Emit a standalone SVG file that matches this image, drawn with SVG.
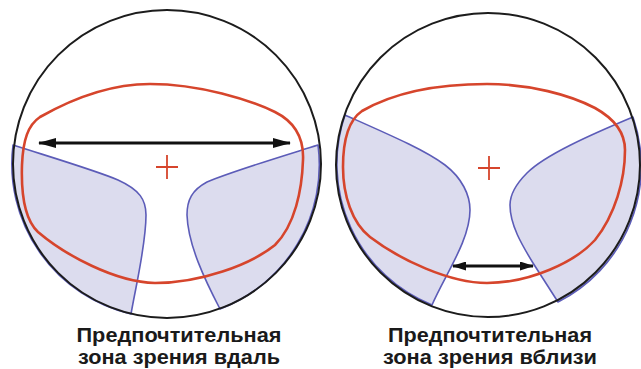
<svg xmlns="http://www.w3.org/2000/svg" width="641" height="369" viewBox="0 0 641 369">
<style>
.lens{fill:#ffffff;stroke:none}
.rim{fill:none;stroke:#1c1c1c;stroke-width:2}
.zone{fill:#dcdcee;stroke:#5c5cb8;stroke-width:1.6;stroke-linejoin:round}
.frame{fill:none;stroke:#d6452c;stroke-width:2.6}
.cross{stroke:#d6452c;stroke-width:1.8;fill:none}
.arr{stroke:#111;stroke-width:3;fill:none}
.lbl{font-family:"Liberation Sans",Arial,sans-serif;font-weight:bold;font-size:19.5px;fill:#1a1a1a;text-anchor:middle}
</style>
<defs>
<marker id="ah" markerWidth="18" markerHeight="10" refX="17" refY="5" orient="auto-start-reverse" markerUnits="userSpaceOnUse">
<path d="M0,0 L18,5 L0,10 z" fill="#111"/>
</marker>
<marker id="ahs" markerWidth="14" markerHeight="9" refX="13" refY="4.5" orient="auto-start-reverse" markerUnits="userSpaceOnUse">
<path d="M0,0 L14,4.5 L0,9 z" fill="#111"/>
</marker>
</defs>

<g id="lens-far">
<circle class="lens" cx="167" cy="164" r="154"/>
<path class="zone" d="M13,145 C60,160 100,172 118,180 C140,190 146,200 146,215 C146,245 136,285 131,314 A154,154 0 0 1 13,145 Z"/>
<path class="zone" d="M318,145 C270,160 230,172 207,182 C192,190 187,200 187,215 C188,245 205,280 220,309 A154,154 0 0 0 318,145 Z"/>
<path class="frame" d="M150,84 C200,84 250,100 275,112 C295,122 304,138 303,160 C302,190 295,225 275,245 C250,265 200,283 155,283 C115,282 65,255 38,232 C25,220 21,195 22,165 C23,140 28,125 40,117 C70,100 110,84 150,84 Z"/>
<circle class="rim" cx="167" cy="164" r="154"/>
<path class="cross" d="M156,167 H178 M167,155 V179"/>
</g>

<g id="lens-near">
<circle class="lens" cx="488" cy="165" r="152"/>
<path class="zone" d="M345,115 C390,135 425,150 445,165 C462,178 470,195 470,210 C470,240 445,275 432,305 A152,152 0 0 1 345,115 Z"/>
<path class="zone" d="M633,117 C590,135 545,155 527,173 C515,185 510,195 510,205 C510,225 522,245 533,263 L558,302 A152,152 0 0 0 633,117 Z"/>
<path class="frame" d="M487,84 C530,84 570,95 595,108 C613,118 625,132 625,150 C625,180 615,215 595,240 C575,262 530,283 487,283 C450,283 400,260 370,237 C352,223 343,195 343,167 C343,145 346,122 362,111 C395,92 440,84 487,84 Z"/>
<circle class="rim" cx="488" cy="165" r="152"/>
<path class="cross" d="M478,168 H500 M489,156 V180"/>
</g>

<g id="connectors">
<line class="arr" x1="39" y1="143" x2="290" y2="143" marker-start="url(#ah)" marker-end="url(#ah)"/>
<line class="arr" x1="453" y1="266" x2="533" y2="266" marker-start="url(#ahs)" marker-end="url(#ahs)"/>
</g>

<g id="label-far">
<text class="lbl" x="179" y="342" textLength="205" lengthAdjust="spacingAndGlyphs">Предпочтительная</text>
<text class="lbl" x="179" y="364" textLength="202" lengthAdjust="spacingAndGlyphs">зона зрения вдаль</text>
</g>
<g id="label-near">
<text class="lbl" x="490" y="342" textLength="204" lengthAdjust="spacingAndGlyphs">Предпочтительная</text>
<text class="lbl" x="490" y="364" textLength="214" lengthAdjust="spacingAndGlyphs">зона зрения вблизи</text>
</g>
</svg>
